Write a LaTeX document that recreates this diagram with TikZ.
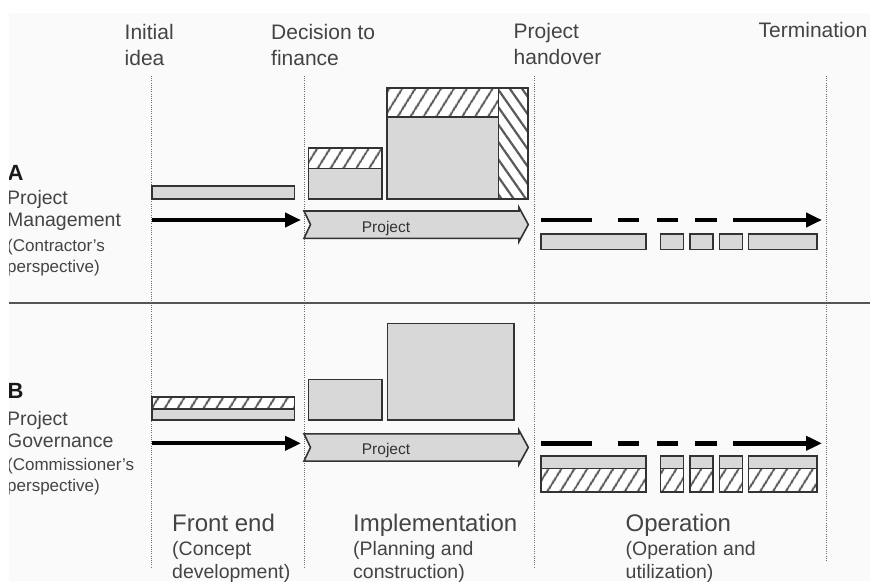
\documentclass[tikz,border=0pt]{standalone}
\usepackage{fontspec}
\setmainfont{Liberation Sans}
\usetikzlibrary{arrows.meta,patterns.meta}

\definecolor{bg}{HTML}{FAFAFA}
\definecolor{boxfill}{HTML}{D8D8D8}
\definecolor{edge}{HTML}{333333}
\definecolor{txt}{HTML}{444444}
\definecolor{hatchc}{HTML}{5A5A5A}
\definecolor{guide}{HTML}{6E6E6E}
\definecolor{rule}{HTML}{555555}

\tikzset{
  box/.style={draw=edge, line width=1.6pt, fill=boxfill},
  hatchbox/.style={draw=edge, line width=1.6pt, fill=white,
    postaction={pattern={Lines[angle=58,distance=10.5pt,line width=2.2pt]}, pattern color=hatchc},
    postaction={draw=edge, line width=1.6pt}},
  hatchback/.style={draw=edge, line width=1.6pt, fill=white,
    postaction={pattern={Lines[angle=-55,distance=10pt,line width=2.2pt]}, pattern color=hatchc},
    postaction={draw=edge, line width=1.6pt}},
  guideline/.style={guide, line width=0.9pt, dash pattern=on 1pt off 1.2pt},
  flow/.style={line width=4.3pt, -{Triangle[length=16pt,width=14pt]}},
  dashseg/.style={line width=4.5pt},
  toplab/.style={anchor=base west, inner sep=0pt, text=txt, font=\fontsize{21}{25}\selectfont},
  sidehead/.style={anchor=base west, inner sep=0pt, text=black!90, font=\fontsize{22}{26}\selectfont\bfseries},
  sidelab/.style={anchor=base west, inner sep=0pt, text=txt, font=\fontsize{19.5}{23}\selectfont},
  sidesub/.style={anchor=base west, inner sep=0pt, text=txt, font=\fontsize{17}{20}\selectfont},
  phase/.style={anchor=base west, inner sep=0pt, text=txt, font=\fontsize{24}{28}\selectfont},
  phasesub/.style={anchor=base west, inner sep=0pt, text=txt, font=\fontsize{19.5}{23}\selectfont},
  chevron/.pic={
    \draw[box] (0,0) -- (215,0) -- (215,-3.5) -- (224.3,13.6) -- (215,30.6)
      -- (215,27.3) -- (0,27.3) -- (6.5,13.6) -- cycle;
    \node[anchor=base, inner sep=0pt, text=edge, font=\fontsize{15.5}{18}\selectfont]
      (-label) at (82,21) {Project};
  }
}

\begin{document}
\begin{tikzpicture}[x=1pt,y=-1pt]
\useasboundingbox (0,0) rectangle (870,581);
\fill[white] (0,0) rectangle (870,581);
\fill[bg] (9,13) rectangle (870,581);

\begin{scope}
\clip (9,13) rectangle (870,581);

% milestone guides
\draw[guideline] (151.7,76) -- (151.7,568);
\draw[guideline] (304,76) -- (304,568);
\draw[guideline] (534,76) -- (534,568);
\draw[guideline] (826.7,76) -- (826.7,561);

% separator between the two perspectives
\draw[rule, line width=2pt] (9,302.7) -- (870,302.7);

% milestone labels
\node[toplab] (init1) at (124.5,39) {Initial};
\node[toplab] (init2) at (124.5,65) {idea};
\node[toplab] (dec1) at (271,39) {Decision to};
\node[toplab] (dec2) at (271,65) {finance};
\node[toplab] (hand1) at (513.5,38) {Project};
\node[toplab] (hand2) at (513.5,64) {handover};
\node[toplab] (term) at (758.5,37) {Termination};

% ---------- A: project management ----------
\node[sidehead] (aHead) at (7.5,180) {A};
\node[sidelab] (aL1) at (7,204) {Project};
\node[sidelab] (aL2) at (7,226) {Management};
\node[sidesub] (aL3) at (7,251) {(Contractor's};
\node[sidesub] (aL4) at (7,272) {perspective)};

\draw[box] (151.7,185.7) rectangle (294.3,199);

\draw[box] (308.3,168.3) rectangle (381.7,199);
\draw[hatchbox] (308.3,147.7) rectangle (381.7,168.3);

\draw[box] (386.7,116.7) rectangle (498.3,199);
\draw[hatchbox] (386.7,87.7) rectangle (498.3,116.7);
\draw[hatchback] (498.3,87.7) rectangle (527.7,199);

\coordinate (aFlowS) at (151.7,220);
\coordinate (aFlowE) at (301,220);
\draw[flow] (aFlowS) -- (aFlowE);
\pic (chA) at (304,211) {chevron};

\foreach \s/\e in {541/591.7, 617.7/639, 656.7/678.3, 695/716.7}
  \draw[dashseg] (\s,220) -- (\e,220);
\coordinate (aOpS) at (733.3,220);
\coordinate (aOpE) at (822,220);
\draw[flow, line width=4.5pt] (aOpS) -- (aOpE);

\foreach \s/\e in {541/645.7, 660.3/683.3, 690/712.7, 719.3/742.3, 748.3/816.7}
  \draw[box] (\s,234) rectangle (\e,249.3);

% ---------- B: project governance ----------
\node[sidehead] (bHead) at (7.5,398) {B};
\node[sidelab] (bL1) at (7,425) {Project};
\node[sidelab] (bL2) at (7,447) {Governance};
\node[sidesub] (bL3) at (7,470) {(Commissioner's};
\node[sidesub] (bL4) at (7,491) {perspective)};

\draw[box] (151.7,409) rectangle (294.3,420);
\draw[hatchbox] (151.7,396.7) rectangle (294.3,409);

\draw[box] (308.3,379.3) rectangle (381.7,420);
\draw[box] (387.3,323.3) rectangle (514,420);

\coordinate (bFlowS) at (151.7,443.3);
\coordinate (bFlowE) at (301,443.3);
\draw[flow] (bFlowS) -- (bFlowE);
\pic (chB) at (304,433.8) {chevron};

\foreach \s/\e in {541/591.7, 617.7/639, 656.7/678.3, 695/716.7}
  \draw[dashseg] (\s,443.3) -- (\e,443.3);
\coordinate (bOpS) at (733.3,443.3);
\coordinate (bOpE) at (822,443.3);
\draw[flow, line width=4.5pt] (bOpS) -- (bOpE);

\foreach \s/\e in {541/645.7, 660.3/683.3, 690/712.7, 719.3/742.3, 748.3/816.7}{
  \draw[box] (\s,455.7) rectangle (\e,468.3);
  \draw[hatchbox] (\s,468.3) rectangle (\e,491.7);
}

% phase labels
\node[phase] (fe1) at (172,531) {Front end};
\node[phasesub] (fe2) at (172,555) {(Concept};
\node[phasesub] (fe3) at (172,578) {development)};
\node[phase] (im1) at (353,531) {Implementation};
\node[phasesub] (im2) at (353,555) {(Planning and};
\node[phasesub] (im3) at (353,578) {construction)};
\node[phase] (op1) at (625.5,531) {Operation};
\node[phasesub] (op2) at (625.5,555) {(Operation and};
\node[phasesub] (op3) at (625.5,578) {utilization)};
\end{scope}
\end{tikzpicture}
\end{document}
